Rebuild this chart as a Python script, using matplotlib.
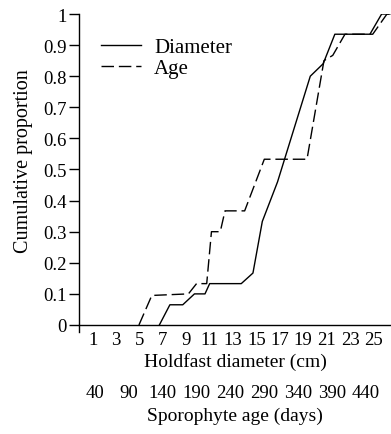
import matplotlib
matplotlib.use("Agg")
import matplotlib.pyplot as plt
import numpy as np

# cumulative proportion vs holdfast diameter (cm)
diam_cm = [6.7, 7.6, 8.7, 9.7, 10.6, 11.0, 13.7, 14.7, 15.5, 16.8, 19.6, 20.7, 21.7, 24.7, 25.7, 26.4]
diam_prop = [0.0, 0.065, 0.065, 0.1, 0.1, 0.133, 0.133, 0.167, 0.333, 0.46, 0.8, 0.84, 0.935, 0.935, 1.0, 1.0]

# cumulative proportion vs sporophyte age (days)
age_days = [105, 124, 178, 190, 205, 212, 225, 232, 261, 290, 353, 378, 391, 409, 450, 471, 477]
age_prop = [0.0, 0.095, 0.1, 0.133, 0.133, 0.3, 0.3, 0.367, 0.367, 0.533, 0.533, 0.85, 0.867, 0.935, 0.935, 1.0, 1.0]

diam_ticks = [1, 3, 5, 7, 9, 11, 13, 15, 17, 19, 21, 23, 25]
age_ticks = [40, 90, 140, 190, 240, 290, 340, 390, 440]
y_ticks = [0, 0.1, 0.2, 0.3, 0.4, 0.5, 0.6, 0.7, 0.8, 0.9, 1]


# the age scale sits under the diameter scale: 40 d -> 1.19 cm, 440 d -> 24.36 cm
def age_to_diam(a):
    return 1.19 + (np.asarray(a, dtype=float) - 40) * (23.17 / 400)


def diam_to_age(d):
    return 40 + (np.asarray(d, dtype=float) - 1.19) * (400 / 23.17)


plt.rcParams["font.family"] = ["Liberation Serif", "DejaVu Serif"]
plt.rcParams["font.size"] = 13.5

fig = plt.figure(figsize=(3.91, 4.35), dpi=100)
ax = fig.add_axes([0.2020, 0.2506, 0.7980, 0.7149])

ax.plot(diam_cm, diam_prop, color="black", lw=1.0, label="Diameter")
ax.plot(age_to_diam(age_days), age_prop, color="black", lw=1.0,
        dashes=(9, 3.5), label="Age")

ax.set_xlim(-0.17, 26.5)
ax.set_ylim(0, 1)
ax.spines["top"].set_visible(False)
ax.spines["right"].set_visible(False)
ax.spines["left"].set_bounds(-0.022, 1)
for s in ("left", "bottom"):
    ax.spines[s].set_linewidth(1.0)

ax.set_yticks(y_ticks)
ax.set_yticklabels([f"{v:g}" for v in y_ticks])
ax.tick_params(axis="y", direction="out", length=7, width=1.0, pad=2)

ax.set_xticks(diam_ticks)
ax.tick_params(axis="x", length=0, pad=4)
ax.set_xlabel("Holdfast diameter (cm)", fontsize=14, labelpad=3)
ax.set_ylabel("Cumulative proportion", fontsize=14.5, labelpad=7)
ax.yaxis.label.set_y(0.53)

sec = ax.secondary_xaxis(-0.19, functions=(diam_to_age, age_to_diam))
sec.set_xticks(age_ticks)
sec.tick_params(length=0, pad=0)
sec.spines["bottom"].set_visible(False)
sec.set_xlabel("Sporophyte age (days)", fontsize=14, labelpad=4)

ax.legend(loc="upper left", bbox_to_anchor=(0.07, 0.924), frameon=False,
          fontsize=15, handlelength=1.95, handletextpad=0.6,
          labelspacing=0.05, borderpad=0, borderaxespad=0)

fig.savefig("out.png", dpi=100)
